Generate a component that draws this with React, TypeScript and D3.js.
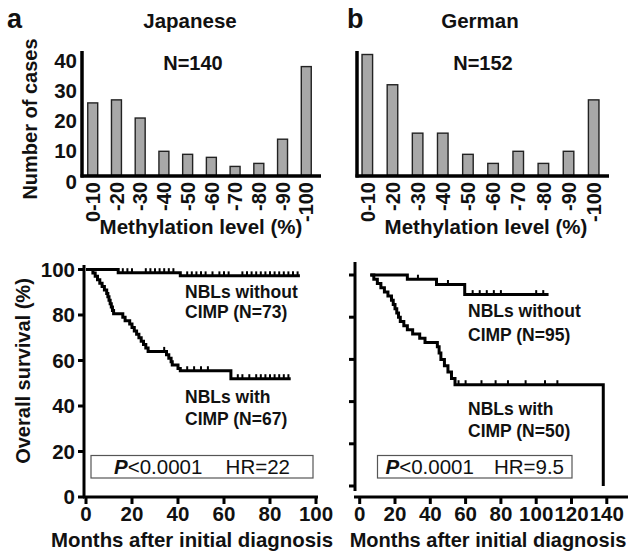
import React, { useEffect, useRef } from 'react';
import * as d3 from 'd3';

const FONT = 'Liberation Sans, Arial, Helvetica, sans-serif';

// histogram data (panel tops)
const methylBins = ['0-10', '-20', '-30', '-40', '-50', '-60', '-70', '-80', '-90', '-100'];
const japaneseCounts = [24, 25, 19, 8, 7, 6, 3, 4, 12, 36];
const germanCounts = [40, 30, 14, 14, 7, 4, 8, 4, 8, 25];
const countTicks = [0, 10, 20, 30, 40];

// survival axes
const survivalTicks = [0, 20, 40, 60, 80, 100];
const jpMonthTicks = [0, 20, 40, 60, 80, 100];
const deMonthTicks = [0, 20, 40, 60, 80, 100, 120, 140];

// Kaplan-Meier steps: [month, survival %]
const jpWithout = [[0, 100], [14, 98.6], [41, 97.2], [93, 97.2]];
const jpWith = [
  [0, 100], [3, 98.5], [4, 97], [5, 95.5], [6, 94], [7, 92.5], [8, 91], [9, 89.5], [9.5, 88],
  [10, 86.5], [10.5, 85], [11, 83.5], [11.5, 82], [12, 80.5], [16, 79], [17, 77.5], [19, 76],
  [20, 74.5], [21, 73], [22, 71.5], [23, 70], [24, 68.5], [25, 67], [26, 65.5], [27, 64],
  [35, 62.5], [36, 61], [37, 59.5], [37.5, 58], [40, 56.5], [41, 55.5], [63, 52], [89, 52]
];
const deWithout = [[6, 100], [27, 98], [43.5, 95.5], [59.5, 90.7], [107, 90.7]];
const deWith = [
  [6, 100], [8, 98], [10, 96], [12, 94], [14, 92], [16, 90], [18, 88], [19, 86], [20, 84],
  [21, 82], [22, 80], [23, 78], [25, 76], [27, 74], [30, 72], [34, 70], [37, 68], [44, 66],
  [45, 63], [46, 60], [48, 57], [50, 54], [52, 51], [54, 48], [138, 0]
];

// censored cases (months)
const jpWithoutCensor = [16, 18, 20, 26, 28, 30, 32, 34, 36, 38, 44, 46, 48, 50, 52, 55, 58, 60, 62,
  68, 70, 72, 74, 76, 78, 80, 82, 84, 86, 88, 90, 92];
const jpWithCensor = [34, 44, 47, 50, 53, 66, 68, 71, 74, 76, 78, 80, 82, 84, 86, 88];
const deWithoutCensor = [33, 50, 64, 68, 72, 76, 80, 100, 104];
const deWithCensor = [56, 60, 69, 77, 84, 94, 105, 112];

const survivalAt = (steps, m) => {
  let s = steps[0][1];
  steps.forEach(p => { if (p[0] <= m) s = p[1]; });
  return s;
};

const boldText = (svg, x, y, txt, size, anchor = 'middle') =>
  svg.append('text')
    .attr('x', x).attr('y', y)
    .attr('text-anchor', anchor)
    .attr('font-family', FONT)
    .attr('font-weight', 'bold')
    .attr('font-size', size)
    .attr('fill', '#111')
    .text(txt);

const drawHistogram = (svg, counts, range, axisX, axisEnd, showTicks) => {
  const x = d3.scaleBand().domain(methylBins).range(range).paddingInner(0.58).paddingOuter(0.2);
  const y = d3.scaleLinear().domain([0, 40]).range([175.5, 54.5]);

  svg.selectAll(null).data(counts).enter().append('rect')
    .attr('x', (d, i) => x(methylBins[i]))
    .attr('y', d => y(d))
    .attr('width', x.bandwidth())
    .attr('height', d => y(0) - y(d))
    .attr('fill', '#a8a8a8')
    .attr('stroke', '#222')
    .attr('stroke-width', 1.4);

  svg.append('line').attr('x1', axisX).attr('x2', axisX).attr('y1', 51).attr('y2', 177.5)
    .attr('stroke', '#000').attr('stroke-width', 3.5);
  svg.append('line').attr('x1', axisX - 1.5).attr('x2', axisEnd).attr('y1', 176).attr('y2', 176)
    .attr('stroke', '#000').attr('stroke-width', 3.5);

  if (showTicks) {
    countTicks.forEach(t => boldText(svg, 77, y(t) + 13, String(t), 20.5, 'end'));
  }

  methylBins.forEach(b => {
    boldText(svg, 0, 0, b, 20, 'end')
      .attr('dy', '0.36em')
      .attr('transform', `translate(${x(b) + x.bandwidth() / 2},182) rotate(-90)`);
  });
};

const drawKM = (svg, opt) => {
  const x = d3.scaleLinear().domain(opt.xDomain).range(opt.xRange);
  const y = d3.scaleLinear().domain([0, 100]).range(opt.yRange);
  const line = d3.line().x(d => x(d[0])).y(d => y(d[1])).curve(d3.curveStepAfter);

  // axes
  svg.append('line').attr('x1', opt.axisX).attr('x2', opt.axisX).attr('y1', opt.yAxisTop).attr('y2', opt.yAxisBottom)
    .attr('stroke', '#000').attr('stroke-width', 3);
  svg.append('line').attr('x1', opt.xAxisStart).attr('x2', opt.xAxisEnd).attr('y1', 497).attr('y2', 497)
    .attr('stroke', '#000').attr('stroke-width', 3);
  survivalTicks.forEach(t => {
    svg.append('line').attr('x1', opt.axisX - 6).attr('x2', opt.axisX).attr('y1', y(t)).attr('y2', y(t))
      .attr('stroke', '#000').attr('stroke-width', 3);
    if (opt.yLabels) boldText(svg, 75, y(t), String(t), 20.5, 'end').attr('dy', '0.36em');
  });
  opt.xTicks.forEach(t => {
    svg.append('line').attr('x1', x(t)).attr('x2', x(t)).attr('y1', 497).attr('y2', 504)
      .attr('stroke', '#000').attr('stroke-width', 3);
    boldText(svg, x(t), 521, String(t), 20.5);
  });

  opt.series.forEach(s => {
    svg.append('path').datum(s.steps).attr('d', line)
      .attr('fill', 'none').attr('stroke', '#000').attr('stroke-width', 3);
    s.censor.forEach(m => {
      const yy = y(survivalAt(s.steps, m));
      svg.append('line').attr('x1', x(m)).attr('x2', x(m)).attr('y1', yy).attr('y2', yy - 4.5)
        .attr('stroke', '#000').attr('stroke-width', 2);
    });
  });

  // labels
  opt.labels.forEach(l => boldText(svg, opt.labelX, l[1], l[0], 17.5, 'start'));

  // P value box
  const b = opt.box;
  svg.append('rect').attr('x', b.x).attr('y', 455.5).attr('width', b.w).attr('height', 22.5)
    .attr('fill', 'none').attr('stroke', '#555').attr('stroke-width', 1.2);
  const p = svg.append('text').attr('x', b.x + b.pad).attr('y', 474)
    .attr('font-family', FONT).attr('font-size', 20.5).attr('fill', '#111');
  p.append('tspan').attr('font-style', 'italic').attr('font-weight', 'bold').text('P');
  p.append('tspan').text('<0.0001');
  boldText(svg, b.x + b.w - b.pad, 474, b.hr, 20.5, 'end').attr('font-weight', 'normal');
};

const App = () => {
  const ref = useRef(null);

  useEffect(() => {
    const svg = d3.select(ref.current);
    svg.selectAll('*').remove();

    // panel letters and titles
    boldText(svg, 7, 28, 'a', 27, 'start');
    boldText(svg, 347, 28, 'b', 27, 'start');
    boldText(svg, 190, 28, 'Japanese', 20.5);
    boldText(svg, 480, 28, 'German', 20.5);
    boldText(svg, 193, 70, 'N=140', 20);
    boldText(svg, 483, 70, 'N=152', 20);

    drawHistogram(svg, japaneseCounts, [83, 316], 82, 321, true);
    drawHistogram(svg, germanCounts, [357, 604], 357, 609, false);
    boldText(svg, 201, 234, 'Methylation level (%)', 20.5);
    boldText(svg, 486, 234, 'Methylation level (%)', 20.5);
    boldText(svg, 0, 0, 'Number of cases', 20)
      .attr('transform', 'translate(37,119) rotate(-90)');

    drawKM(svg, {
      xDomain: [0, 100], xRange: [86, 316], yRange: [497, 269.5],
      axisX: 84, yAxisTop: 265, yAxisBottom: 498, xAxisStart: 83, xAxisEnd: 318,
      xTicks: jpMonthTicks, yLabels: true,
      series: [
        { steps: jpWithout, censor: jpWithoutCensor },
        { steps: jpWith, censor: jpWithCensor }
      ],
      labelX: 185,
      labels: [['NBLs without', 298], ['CIMP (N=73)', 318], ['NBLs with', 403], ['CIMP (N=67)', 425]],
      box: { x: 91, w: 222, pad: 23, hr: 'HR=22' }
    });
    drawKM(svg, {
      xDomain: [0, 140], xRange: [359.7, 606.8], yRange: [486, 275],
      axisX: 355, yAxisTop: 262, yAxisBottom: 491, xAxisStart: 354, xAxisEnd: 628,
      xTicks: deMonthTicks, yLabels: false,
      series: [
        { steps: deWithout, censor: deWithoutCensor },
        { steps: deWith, censor: deWithCensor }
      ],
      labelX: 468,
      labels: [['NBLs without', 317], ['CIMP (N=95)', 341], ['NBLs with', 415], ['CIMP (N=50)', 437]],
      box: { x: 377.5, w: 194.5, pad: 8, hr: 'HR=9.5' }
    });
    boldText(svg, 0, 0, 'Overall survival (%)', 20)
      .attr('transform', 'translate(30,371) rotate(-90)');
    boldText(svg, 192, 547, 'Months after initial diagnosis', 20.4);
    boldText(svg, 488, 547, 'Months after initial diagnosis', 20);
  }, []);

  return (
    <svg ref={ref} width={637} height={551}
      style={{ position: 'absolute', left: 0, top: 0, background: '#fff' }} />
  );
};

export default App;
